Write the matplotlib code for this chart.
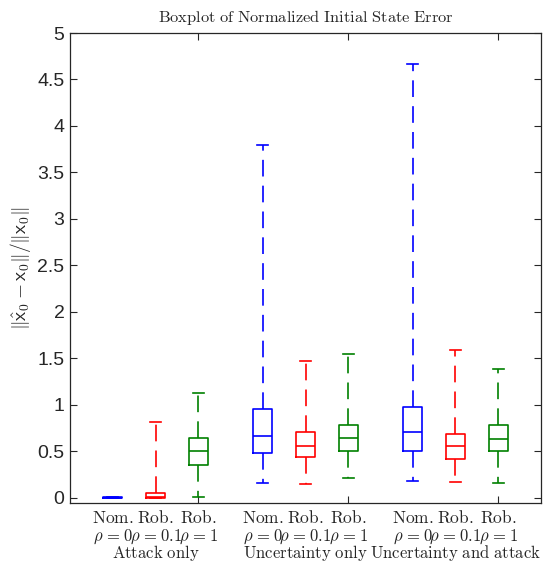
import matplotlib
matplotlib.use("Agg")
import matplotlib.pyplot as plt
import matplotlib.transforms as mtransforms

plt.rcParams["mathtext.fontset"] = "cm"
plt.rcParams["font.family"] = ["Liberation Sans", "DejaVu Sans"]

# ---- data ----
positions = [1, 2, 3, 4.5, 5.5, 6.5, 8, 9, 10]
methods = ["Nom.", "Rob.", "Rob.", "Nom.", "Rob.", "Rob.", "Nom.", "Rob.", "Rob."]
rhos = ["0", "0.1", "1", "0", "0.1", "1", "0", "0.1", "1"]
groups = ["Attack only", "Uncertainty only", "Uncertainty and attack"]
group_centers = [2, 5.5, 9]
whislo = [0.0, 0.0, 0.015, 0.165, 0.15, 0.22, 0.18, 0.175, 0.16]
q1 = [0.0, 0.0, 0.35, 0.48, 0.44, 0.505, 0.51, 0.42, 0.50]
med = [0.003, 0.01, 0.51, 0.67, 0.56, 0.645, 0.71, 0.555, 0.63]
q3 = [0.008, 0.05, 0.645, 0.955, 0.71, 0.79, 0.98, 0.69, 0.79]
whishi = [0.01, 0.82, 1.13, 3.80, 1.47, 1.545, 4.67, 1.595, 1.39]
colors = ["#0000FF", "#FF0000", "#008000"] * 3

fig = plt.figure(figsize=(5.53, 5.63), dpi=100)
ax = fig.add_axes([70/553, 60/563, 471/553, 470/563])

stats = [dict(whislo=a, q1=b, med=c, q3=d, whishi=e, fliers=[])
         for a, b, c, d, e in zip(whislo, q1, med, q3, whishi)]
for s, p, col in zip(stats, positions, colors):
    ax.bxp([s], positions=[p], widths=0.45, capwidths=0.25, showfliers=False,
           boxprops=dict(color=col, lw=1.2),
           medianprops=dict(color=col, lw=1.2),
           whiskerprops=dict(color=col, lw=1.2, ls=(0, (10, 5.5))),
           capprops=dict(color=col, lw=1.2))

ax.set_xlim(0, 11)
ax.set_ylim(-0.054, 5)
ax.set_xticks([3, 6.5, 10])
ax.set_xticklabels([])
ax.set_yticks([0, 0.5, 1, 1.5, 2, 2.5, 3, 3.5, 4, 4.5, 5])
ax.set_yticklabels(["0", "0.5", "1", "1.5", "2", "2.5", "3", "3.5", "4", "4.5", "5"])
ax.tick_params(direction="in", top=True, right=True, length=5, width=0.8,
               color="#262626", labelsize=14, labelcolor="#262626", pad=4)
for sp in ax.spines.values():
    sp.set_color("#262626")
    sp.set_linewidth(0.9)

ax.set_title(r"$\mathrm{Boxplot\ of\ Normalized\ Initial\ State\ Error}$",
             fontsize=11.8, color="#262626", pad=8)
ax.set_ylabel(r"$\|\hat{\mathsf{x}}_0-\mathsf{x}_0\|/\|\mathsf{x}_0\|$",
              fontsize=14, color="#262626", labelpad=3)

trans = mtransforms.blended_transform_factory(ax.transData, ax.transAxes)
for p, m, r in zip(positions, methods, rhos):
    ax.text(p, -0.031, r"$\mathrm{%s}$" % m, transform=trans, ha="center", va="center",
            fontsize=12.5, color="#262626")
    ax.text(p, -0.071, r"$\rho\hspace{0.1}=\hspace{0.1}%s$" % r, transform=trans,
            ha="center", va="center", fontsize=12, color="#262626")
for c, g in zip(group_centers, groups):
    ax.text(c, -0.106, r"$\mathrm{%s}$" % g.replace(" ", r"\ "), transform=trans,
            ha="center", va="center", fontsize=12, color="#262626")

fig.savefig("out.png", dpi=100)
